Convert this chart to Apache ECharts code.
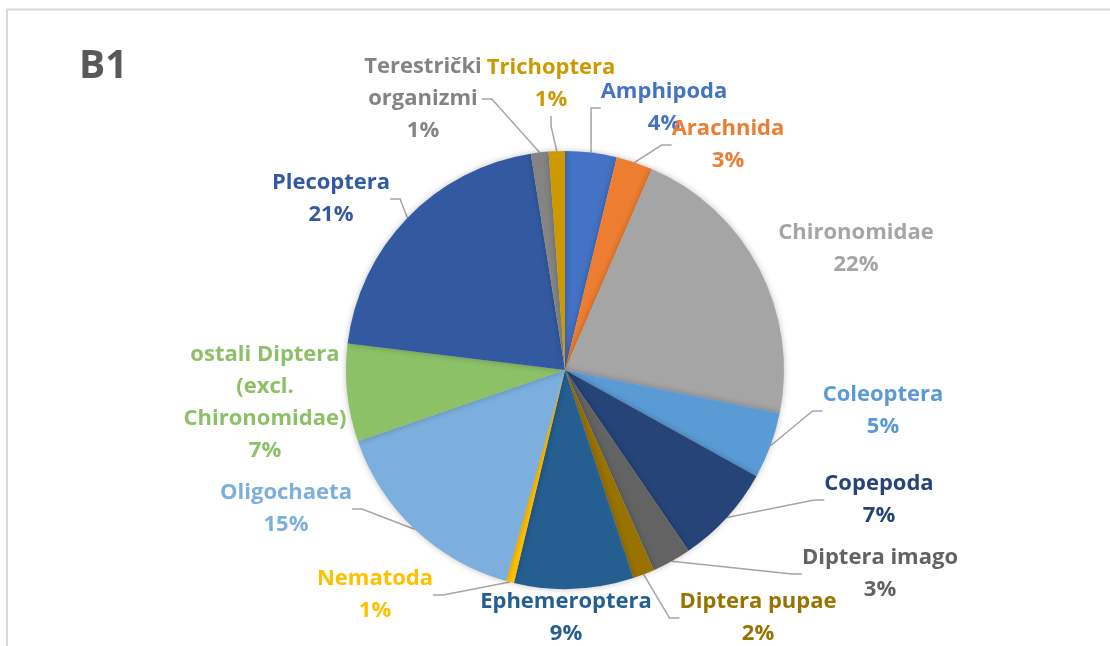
<!DOCTYPE html>
<html>
<head>
<meta charset="utf-8">
<script src="https://cdn.jsdelivr.net/npm/echarts@6/dist/echarts.min.js"></script>
<style>html,body{margin:0;padding:0;background:#fff;}#c{width:1110px;height:646px;}</style>
</head>
<body>
<div id="c"></div>
<script>
// ---- data ----
const categories = ['Amphipoda','Arachnida','Chironomidae','Coleoptera','Copepoda','Diptera imago','Diptera pupae','Ephemeroptera','Nematoda','Oligochaeta','ostali Diptera (excl. Chironomidae)','Plecoptera','Terestrički organizmi','Trichoptera'];
const values = [3.8, 2.7, 21.7, 4.9, 7.4, 2.9, 1.6, 8.8, 0.6, 15.4, 7.2, 20.6, 1.3, 1.2];
const labelTexts = ['Amphipoda','Arachnida','Chironomidae','Coleoptera','Copepoda','Diptera imago','Diptera pupae','Ephemeroptera','Nematoda','Oligochaeta','ostali Diptera\n(excl.\nChironomidae)','Plecoptera','Terestrički\norganizmi','Trichoptera'];
const colors = ['#4472C4','#ED7D31','#A5A5A5','#5B9BD5','#264478','#636363','#997300','#255E91','#FFC000','#7CAFDD','#8CC168','#335AA1','#848484','#CC9A00'];
const showLine = [true,true,false,true,true,true,true,false,true,true,false,true,true,true];
// label centres (layout only)
const labelPos = [[664,108],[728,145],[856,249],[883,411],[879,500],[880,574],[758,618],[566,618],[375,595],[286,509],[265,403],[331,199],[423,99],[551,84]];

const total = values.reduce((a,b)=>a+b,0);
const chart = echarts.init(document.getElementById('c'));
chart.setOption({
  animation:false,
  graphic:[
    {type:'polyline', shape:{points:[[7,646],[7,9.5],[1110,9.5]]}, style:{stroke:'#D9D9D9', lineWidth:2, fill:null}},
    {type:'text', left:79, top:47, style:{text:'B1', font:'bold 39px "Open Sans", sans-serif', fill:'#595959'}}
  ],
  series:[{
    type:'pie',
    center:[565,370],
    radius:219,
    startAngle:90,
    clockwise:true,
    avoidLabelOverlap:false,
    itemStyle:{shadowBlur:6, shadowColor:'rgba(0,0,0,0.25)'},
    label:{
      show:true,
      position:'outer',
      fontFamily:'"Open Sans", sans-serif',
      fontWeight:'bold',
      fontSize:22,
      lineHeight:32,
      align:'center',
      formatter:p => labelTexts[p.dataIndex] + '\n' + Math.round(p.value/total*100) + '%'
    },
    labelLine:{show:true, lineStyle:{color:'#A6A6A6', width:1.5}, length:10, length2:10},
    labelLayout:function(params){
      const p = labelPos[params.dataIndex];
      return {x:p[0], y:p[1], align:'center', verticalAlign:'middle', hideOverlap:false};
    },
    data: categories.map((c,i)=>({
      name:c, value:values[i],
      itemStyle:{color:colors[i]},
      label:{color:colors[i]},
      labelLine:{show:showLine[i]}
    }))
  }]
});
</script>
</body>
</html>
